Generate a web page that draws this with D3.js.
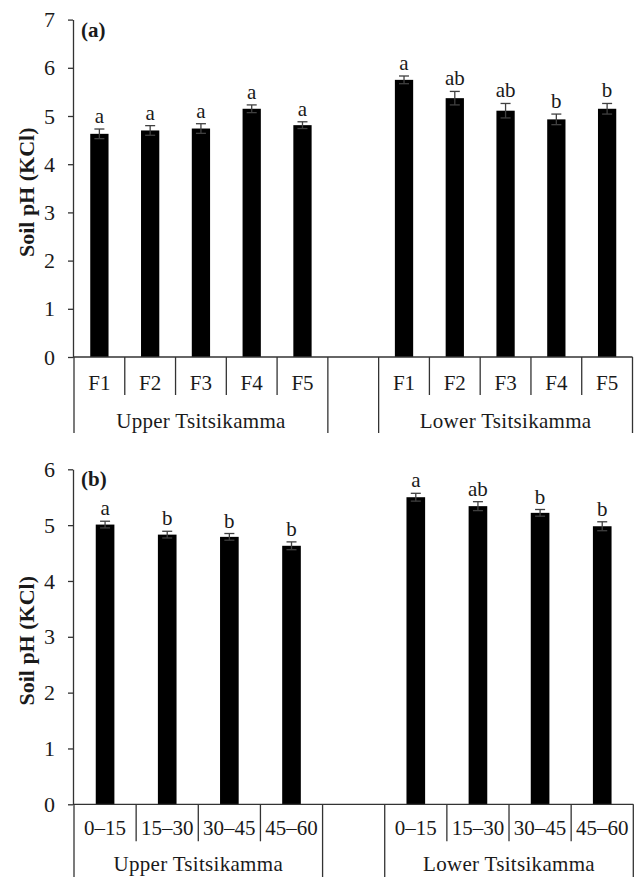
<!DOCTYPE html>
<html>
<head>
<meta charset="utf-8">
<script src="https://cdn.jsdelivr.net/npm/d3@7"></script>
<style>
  body { margin: 0; background: #fff; }
</style>
</head>
<body>
<script>
// categories
const sites = ['Upper Tsitsikamma', 'Lower Tsitsikamma'];
const forestCats = ['F1', 'F2', 'F3', 'F4', 'F5'];
const depthCats = ['0–15', '15–30', '30–45', '45–60'];

// panel (a) - soil pH by forest
const phForestUpper = [4.63, 4.70, 4.74, 5.15, 4.81];
const seForestUpper = [0.10, 0.10, 0.10, 0.08, 0.07];
const letForestUpper = ['a', 'a', 'a', 'a', 'a'];
const phForestLower = [5.75, 5.37, 5.11, 4.93, 5.15];
const seForestLower = [0.08, 0.14, 0.15, 0.11, 0.11];
const letForestLower = ['a', 'ab', 'ab', 'b', 'b'];

// panel (b) - soil pH by depth (cm)
const phDepthUpper = [5.01, 4.83, 4.79, 4.63];
const seDepthUpper = [0.06, 0.06, 0.06, 0.07];
const letDepthUpper = ['a', 'b', 'b', 'b'];
const phDepthLower = [5.50, 5.34, 5.22, 4.98];
const seDepthLower = [0.07, 0.08, 0.06, 0.08];
const letDepthLower = ['a', 'ab', 'b', 'b'];

// y ticks
const ticksA = [0, 1, 2, 3, 4, 5, 6, 7];
const ticksB = [0, 1, 2, 3, 4, 5, 6];

const FONT = "'Liberation Serif', 'Times New Roman', 'DejaVu Serif', serif";

const svg = d3.select('body').append('svg')
    .attr('width', 638)
    .attr('height', 877)
    .attr('font-family', FONT);

function drawPanel(opt) {
    const g = svg.append('g');

    // build slots: group 1, an empty slot, group 2
    const rows = [];
    opt.cats.forEach((c, i) => rows.push({ key: 'U' + i, cat: c, site: 0, v: opt.upper[i], se: opt.upperSe[i], lab: opt.upperLet[i] }));
    rows.push({ key: 'gap', cat: '', site: -1 });
    opt.cats.forEach((c, i) => rows.push({ key: 'L' + i, cat: c, site: 1, v: opt.lower[i], se: opt.lowerSe[i], lab: opt.lowerLet[i] }));

    const x = d3.scaleBand().domain(rows.map((d) => d.key)).range(opt.xRange).padding(0);
    const y = d3.scaleLinear().domain([0, d3.max(opt.ticks)]).range([opt.y0, opt.yTop]);
    const step = x.step();
    const bw = step * opt.barFrac;
    const data = rows.filter((d) => d.site >= 0);

    // y axis
    const yaxis = d3.axisLeft(y).tickValues(opt.ticks).tickFormat(d3.format('d'))
        .tickSize(5).tickSizeOuter(0).tickPadding(13);
    const gy = g.append('g').attr('transform', `translate(${opt.xAxis},0)`).call(yaxis)
        .attr('font-family', FONT).attr('font-size', 22);
    gy.select('.domain').attr('stroke', '#333').attr('stroke-width', 1.3);
    gy.selectAll('.tick line').attr('stroke', '#333').attr('stroke-width', 1.3);
    gy.selectAll('.tick text').attr('fill', '#1a1a1a');

    // y label
    g.append('text')
        .attr('transform', `translate(26,${(opt.y0 + opt.yTop) / 2 + 4}) rotate(-90)`)
        .attr('text-anchor', 'middle')
        .attr('dominant-baseline', 'central')
        .attr('font-size', 22)
        .attr('font-weight', 'bold')
        .attr('fill', '#1a1a1a')
        .text('Soil pH (KCl)');

    // panel tag
    g.append('text')
        .attr('x', opt.xAxis + 8)
        .attr('y', opt.yTop + 17)
        .attr('font-size', 21)
        .attr('font-weight', 'bold')
        .attr('fill', '#1a1a1a')
        .text(opt.tag);

    // bars
    g.selectAll('rect.bar')
        .data(data)
        .join('rect')
        .attr('class', 'bar')
        .attr('x', (d) => x(d.key) + (step - bw) / 2)
        .attr('width', bw)
        .attr('y', (d) => y(d.v))
        .attr('height', (d) => y(0) - y(d.v))
        .attr('fill', '#000');

    // error bars
    const eb = g.selectAll('g.err').data(data).join('g').attr('class', 'err')
        .attr('stroke', '#404040').attr('stroke-width', 1.3);
    const cx = (d) => x(d.key) + step / 2;
    eb.append('line').attr('x1', cx).attr('x2', cx).attr('y1', (d) => y(d.v + d.se)).attr('y2', (d) => y(d.v - d.se));
    eb.append('line').attr('x1', (d) => cx(d) - 5).attr('x2', (d) => cx(d) + 5).attr('y1', (d) => y(d.v + d.se)).attr('y2', (d) => y(d.v + d.se));
    eb.append('line').attr('x1', (d) => cx(d) - 5).attr('x2', (d) => cx(d) + 5).attr('y1', (d) => y(d.v - d.se)).attr('y2', (d) => y(d.v - d.se));

    // significance letters
    g.selectAll('text.sig').data(data).join('text')
        .attr('class', 'sig')
        .attr('x', cx)
        .attr('y', (d) => y(d.v + d.se) - 6)
        .attr('text-anchor', 'middle')
        .attr('font-size', 21)
        .attr('fill', '#1a1a1a')
        .text((d) => d.lab);

    // category axis line
    const xEnd = opt.xRange[1];
    g.append('line')
        .attr('x1', opt.xAxis).attr('x2', xEnd)
        .attr('y1', opt.y0).attr('y2', opt.y0)
        .attr('stroke', '#333').attr('stroke-width', 1.3);

    // separators: inner short, group borders long
    const seps = [];
    [0, 1].forEach((s) => {
        const grp = data.filter((d) => d.site === s);
        grp.forEach((d, i) => {
            if (i > 0) seps.push({ x: x(d.key), long: false });
        });
        seps.push({ x: x(grp[0].key), long: true });
        seps.push({ x: x(grp[grp.length - 1].key) + step, long: true });
    });
    g.selectAll('line.sep').data(seps).join('line')
        .attr('class', 'sep')
        .attr('x1', (d) => d.x).attr('x2', (d) => d.x)
        .attr('y1', opt.y0)
        .attr('y2', (d) => (d.long ? opt.y0 + opt.longLen : opt.y0 + opt.shortLen))
        .attr('stroke', '#333').attr('stroke-width', 1.3);

    // category labels
    g.selectAll('text.cat').data(data).join('text')
        .attr('class', 'cat')
        .attr('x', cx)
        .attr('y', opt.y0 + opt.catDy)
        .attr('text-anchor', 'middle')
        .attr('font-size', 21)
        .attr('fill', '#1a1a1a')
        .text((d) => d.cat);

    // site labels
    g.selectAll('text.site').data(sites).join('text')
        .attr('class', 'site')
        .attr('x', (d, i) => {
            const grp = data.filter((r) => r.site === i);
            return (x(grp[0].key) + x(grp[grp.length - 1].key) + step) / 2;
        })
        .attr('y', opt.y0 + opt.siteDy)
        .attr('text-anchor', 'middle')
        .attr('font-size', 21)
        .attr('letter-spacing', 0.3)
        .attr('fill', '#1a1a1a')
        .text((d) => d);
}

drawPanel({
    tag: '(a)', cats: forestCats,
    upper: phForestUpper, upperSe: seForestUpper, upperLet: letForestUpper,
    lower: phForestLower, lowerSe: seForestLower, lowerLet: letForestLower,
    ticks: ticksA, yTop: 19.6, y0: 357, xAxis: 73, xRange: [74, 632.5], barFrac: 0.36,
    shortLen: 38, longLen: 76, catDy: 33, siteDy: 71
});

drawPanel({
    tag: '(b)', cats: depthCats,
    upper: phDepthUpper, upperSe: seDepthUpper, upperLet: letDepthUpper,
    lower: phDepthLower, lowerSe: seDepthLower, lowerLet: letDepthLower,
    ticks: ticksB, yTop: 469.3, y0: 804.3, xAxis: 73, xRange: [74, 633.3], barFrac: 0.3,
    shortLen: 37, longLen: 80, catDy: 31, siteDy: 67
});
</script>
</body>
</html>
